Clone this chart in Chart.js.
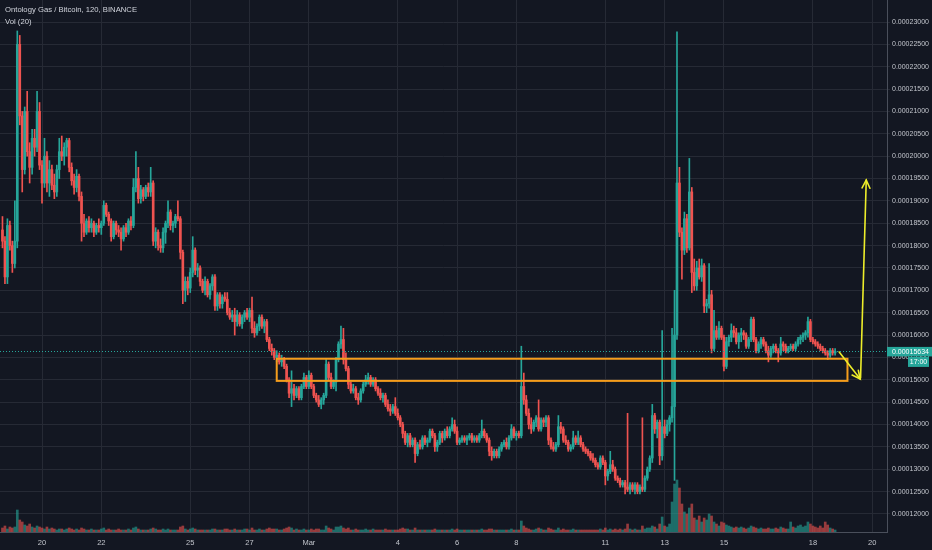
<!DOCTYPE html>
<html><head><meta charset="utf-8">
<script src="https://cdn.jsdelivr.net/npm/chart.js@4.4.1/dist/chart.umd.min.js"></script>
<style>
html,body{margin:0;padding:0;background:#131722;overflow:hidden}
#wrap{position:relative;width:932px;height:550px}
canvas{display:block}
.hdr{position:absolute;left:5px;top:4px;font-family:"Liberation Sans",Arial,sans-serif;font-size:7.7px;color:#d1d4dc;line-height:12px;white-space:nowrap}
</style></head><body>
<div id="wrap"><canvas id="c" width="932" height="550"></canvas>
<div class="hdr"><div id="t1"></div><div id="t2"></div></div></div>
<script>
// ---- text ----
const titleText = "Ontology Gas / Bitcoin, 120, BINANCE";
const volText = "Vol (20)";
// ---- time: 2h candles, first candle Feb 18 16:00 (hours relative to Feb 20 00:00) ----
const startHour = -32;
const stepHours = 2;
// x-axis tick days (days after Feb 20) and labels
const tickDays = [0, 2, 5, 7, 9, 12, 14, 16, 19, 21, 23, 26, 28];
const tickLabels = ["20", "22", "25", "27", "Mar", "4", "6", "8", "11", "13", "15", "18", "20"];
// price ticks (satoshi)
const priceTicks = [12000,12500,13000,13500,14000,14500,15000,15500,16000,16500,17000,17500,18000,18500,19000,19500,20000,20500,21000,21500,22000,22500,23000];
// ---- OHLC in satoshi (1e-8 BTC) ----
const openP = [
18350,18100,17300,18450,
18000,17600,18100,22500,20900,19700,21000,20100,19750,20400,20200,21000,
19800,19400,20000,19400,19700,19350,19200,19700,20100,20000,20200,20350,
19750,19450,19300,19550,19100,18500,18300,18550,18400,18500,18300,18450,
18400,18500,18900,18700,18550,18200,18500,18350,18300,18150,18400,18300,
18550,18450,19300,19500,19050,19250,19100,19300,19200,19400,18100,18300,
18000,17950,18300,18500,18750,18450,18500,18650,18600,17850,17000,17200,
17050,17400,17900,17450,17500,17200,17000,17200,16900,17100,17300,16650,
16900,16700,16850,16800,16500,16400,16450,16300,16450,16250,16400,16500,
16400,16550,16150,16050,16200,16400,16200,16300,15900,15700,15650,15500,
15550,15400,15450,15300,15000,14700,14800,14650,14800,14600,14850,15050,
14850,15100,14850,14650,14550,14450,14550,14650,15350,15050,14850,14950,
15450,15800,15900,15450,15250,14900,14750,14800,14600,14550,14750,14900,
15000,15050,14900,15000,14800,14700,14600,14650,14450,14350,14300,14400,
14250,14150,14000,13800,13600,13750,13550,13650,13350,13550,13500,13700,
13600,13650,13850,13750,13500,13600,13800,13700,13850,13750,13900,14000,
13850,13600,13650,13700,13650,13700,13750,13650,13700,13650,13750,13850,
13750,13650,13400,13300,13400,13300,13450,13550,13600,13500,13700,13900,
13750,13800,13750,14850,14550,14250,14000,13900,14050,14150,13900,14100,
14050,14150,13650,13500,13450,13550,13950,13900,13650,13600,13450,13500,
13700,13600,13700,13550,13450,13400,13350,13250,13200,13100,13050,13250,
13150,12850,12950,13100,13000,12800,12750,12650,12700,12600,12550,12650,
12550,12650,12500,12600,12550,12800,13000,13250,14200,13900,14050,13300,
13950,13800,14000,14150,14400,16000,19400,18300,17900,18600,17950,19200,
17400,17100,17500,17300,17550,16650,16700,16900,15700,16100,15950,16150,
15950,15300,15850,15950,16100,16050,15850,16000,16050,16000,15750,15900,
16350,15900,15650,15800,15900,15800,15650,15550,15700,15750,15650,15600,
15800,15750,15650,15700,15750,15700,15800,15900,15950,16000,16050,16300,
15900,15850,15800,15750,15700,15650,15600,15550,15650,15600];
const highP = [
18650,18200,18600,18550,
18100,19000,22800,22700,21000,21100,21450,20300,20600,20600,21450,21200,
19900,20400,20100,19900,19800,19600,19800,20400,20450,20300,20400,20400,
19850,19600,19700,19600,19200,18700,18600,18650,18600,18550,18500,18600,
18550,19000,18950,18750,18600,18550,18550,18450,18400,18450,18500,18600,
18650,19500,20100,19750,19350,19300,19350,19400,19750,19450,18400,18350,
18150,18400,18550,19000,18800,18550,18700,19000,18650,17900,17300,17300,
17500,18200,17950,17600,17550,17250,17300,17250,17150,17350,17350,16950,
16950,16900,16950,16950,16600,16550,16600,16550,16500,16450,16550,16600,
16600,16850,16300,16250,16450,16450,16350,16350,15950,15800,15700,15650,
15600,15550,15500,15350,15050,15200,14900,14850,14850,14900,15150,15100,
15200,15150,14900,14700,14650,14600,14700,15450,15400,15150,15000,15500,
15850,16200,16150,15600,15300,14950,14900,14850,14700,14800,14950,15100,
15150,15100,15050,15050,14850,14800,14700,14700,14550,14450,14450,14600,
14350,14200,14050,13850,13800,13800,13700,13700,13600,13650,13750,13750,
13700,13900,13900,13800,13650,13850,13850,13900,13950,13950,14150,14100,
13950,13700,13750,13750,13750,13800,13800,13750,13750,13800,14100,13900,
13800,13700,13500,13450,13450,13500,13600,13650,13700,13750,14000,13950,
13850,13850,15750,15150,14650,14350,14150,14100,14200,14550,14150,14150,
14200,14200,13700,13600,13600,14200,14050,13950,13750,13650,13550,13850,
13750,13850,13750,13600,13500,13450,13400,13350,13250,13150,13300,13300,
13200,13000,13400,13200,13050,12850,12800,12750,12750,14250,12700,12700,
12700,12700,12650,14150,12850,13050,13300,14450,14250,14100,14100,16100,
14100,14100,14200,16150,17000,22780,19750,18400,18750,18700,19950,19300,
17700,17650,17700,17700,17600,16800,17600,17000,16550,16200,16300,16200,
16000,15950,16000,16250,16200,16150,16050,16150,16100,16050,15950,16400,
16400,15950,15850,15950,15950,15850,15750,15750,15800,15800,15700,15950,
15850,15800,15750,15800,15800,15850,15950,16000,16050,16100,16400,16350,
15950,15900,15850,15800,15750,15700,15650,15700,15700,15700];
const lowP = [
17950,17150,17150,17900,
17400,17500,17950,20700,19200,19600,20000,19400,19600,20000,20100,19700,
18950,19300,19200,19100,19250,19050,19100,19500,19900,19800,20000,19650,
19350,19150,19200,19000,18100,18200,18250,18300,18300,18200,18250,18300,
18250,18450,18650,18450,18100,18150,18250,18200,17900,18100,18200,18250,
18350,18400,19200,18950,18950,19000,19050,19100,19100,18000,17950,17900,
17850,17850,18050,18400,18350,18300,18400,18550,17700,16700,16750,16900,
16950,17300,17350,17300,17100,16950,16900,16850,16800,17000,16550,16550,
16600,16600,16750,16450,16350,16300,16000,16200,16200,16150,16300,16350,
16300,16050,15950,16000,16100,16150,16050,15850,15650,15550,15450,15400,
15350,15300,15250,14950,14600,14400,14550,14600,14550,14550,14800,14800,
14800,14800,14600,14500,14400,14350,14450,14600,15000,14800,14800,14750,
15400,15700,15350,15200,14800,14700,14700,14550,14450,14500,14700,14850,
14900,14850,14850,14750,14650,14550,14500,14400,14300,14200,14250,14200,
14100,13950,13700,13550,13500,13500,13500,13150,13300,13450,13450,13550,
13500,13600,13700,13400,13400,13550,13600,13650,13700,13700,13850,13800,
13550,13550,13600,13600,13550,13650,13600,13600,13600,13600,13700,13700,
13600,13300,13200,13250,13250,13250,13400,13500,13450,13450,13650,13700,
13650,13700,13700,14450,14200,13900,13800,13850,13950,13850,13850,13950,
13950,13550,13450,13400,13400,13500,13800,13600,13550,13400,13400,13450,
13550,13550,13500,13400,13350,13300,13200,13150,13050,13000,13000,13100,
12650,12750,12900,12950,12750,12700,12600,12600,12450,12500,12450,12500,
12450,12450,12450,12500,12500,12750,12950,13150,13800,13700,13100,13200,
13700,13750,13850,14050,12750,15900,18200,17250,17800,17850,17900,16950,
17000,17000,17250,17200,16500,16500,16600,15600,15650,15900,15900,15900,
15200,15250,15750,15850,15950,15800,15700,15850,15900,15700,15700,15850,
15850,15600,15600,15700,15750,15600,15400,15500,15600,15600,15400,15550,
15650,15600,15600,15650,15650,15650,15750,15800,15850,15900,15950,15850,
15800,15750,15700,15650,15600,15550,15450,15500,15550,15550];
const closeP = [
18100,17300,18450,18000,
17600,18100,22500,20900,19700,21000,20100,19750,20400,20200,21000,19800,
19400,20000,19400,19700,19350,19200,19700,20100,20000,20200,20350,19750,
19450,19300,19550,19100,18500,18300,18550,18400,18500,18300,18450,18400,
18500,18900,18700,18550,18200,18500,18350,18300,18150,18400,18300,18550,
18450,19300,19500,19050,19250,19100,19300,19200,19400,18100,18300,18000,
17950,18300,18500,18750,18450,18500,18650,18600,17850,17000,17200,17050,
17400,17900,17450,17500,17200,17000,17200,16900,17100,17300,16650,16900,
16700,16850,16800,16500,16400,16450,16300,16450,16250,16400,16500,16400,
16550,16150,16050,16200,16400,16200,16300,15900,15700,15650,15500,15550,
15400,15450,15300,15000,14700,14800,14650,14800,14600,14850,15050,14850,
15100,14850,14650,14550,14450,14550,14650,15350,15050,14850,14950,15450,
15800,15900,15450,15250,14900,14750,14800,14600,14550,14750,14900,15000,
15050,14900,15000,14800,14700,14600,14650,14450,14350,14300,14400,14250,
14150,14000,13800,13600,13750,13550,13650,13350,13550,13500,13700,13600,
13650,13850,13750,13500,13600,13800,13700,13850,13750,13900,14000,13850,
13600,13650,13700,13650,13700,13750,13650,13700,13650,13750,13850,13750,
13650,13400,13300,13400,13300,13450,13550,13600,13500,13700,13900,13750,
13800,13750,14850,14550,14250,14000,13900,14050,14150,13900,14100,14050,
14150,13650,13500,13450,13550,13950,13900,13650,13600,13450,13500,13700,
13600,13700,13550,13450,13400,13350,13250,13200,13100,13050,13250,13150,
12850,12950,13100,13000,12800,12750,12650,12700,12600,12550,12650,12550,
12650,12500,12600,12550,12800,13000,13250,14200,13900,14050,13300,13950,
13800,14000,14150,14400,16000,19400,18300,17900,18600,17950,19200,17400,
17100,17500,17300,17550,16650,16700,16900,15700,16100,15950,16150,15950,
15300,15850,15950,16100,16050,15850,16000,16050,16000,15750,15900,16350,
15900,15650,15800,15900,15800,15650,15550,15700,15750,15650,15600,15800,
15750,15650,15700,15750,15700,15800,15900,15950,16000,16050,16300,15900,
15850,15800,15750,15700,15650,15600,15550,15650,15600,15634];
// volume (relative units)
const volume = [
4,6,3,5,
4,5,22,12,10,7,6,8,5,4,6,5,
4,3,5,3,4,3,2,3,3,2,3,4,
3,2,3,2,4,3,2,2,3,2,2,2,
3,4,2,3,2,2,2,3,2,2,2,3,
2,4,5,3,2,2,2,2,3,4,3,2,
2,3,2,3,2,2,2,2,5,6,3,2,
3,4,3,2,2,2,2,2,2,3,3,2,
2,2,3,3,2,2,3,2,2,2,3,3,
2,4,2,2,3,2,2,3,4,3,3,3,
2,2,3,4,5,4,2,3,2,2,3,2,
2,3,2,3,3,2,2,6,4,3,2,5,
5,6,4,3,4,2,2,3,2,2,2,3,
2,2,3,2,2,2,2,3,2,2,2,2,
2,3,4,3,3,2,2,4,2,2,2,2,
2,2,2,3,2,2,2,2,2,2,3,2,
3,2,2,2,2,2,2,2,2,2,3,2,
2,3,3,2,2,2,2,2,2,2,3,2,
2,2,11,6,4,3,2,2,3,4,3,2,
2,4,3,2,2,4,2,3,2,2,2,3,
2,2,2,2,2,2,2,2,2,2,3,2,
4,2,3,2,3,2,3,2,3,8,3,2,
3,2,2,6,3,4,4,6,5,3,8,15,
6,5,8,30,48,52,44,28,20,18,24,28,
14,12,16,10,14,12,18,16,10,8,6,10,
9,7,6,5,4,5,4,5,4,3,4,6,
5,4,3,4,3,3,4,3,3,4,3,5,
4,3,3,10,5,4,6,7,5,6,10,8,
6,5,4,6,4,10,7,4,3,2];
// ---- drawings (hours after Feb 20 00:00, satoshi) ----
const lastPrice = 15634;
const countdown = "17:00";
const zoneFromHour = 190, zoneToHour = 652, zoneTop = 15470, zoneBottom = 14975;
const arrowDown = [[645.3, 15621], [662.3, 15017]];
const arrowUp = [[662.6, 15040], [667.2, 19467]];

document.getElementById('t1').textContent = titleText;
document.getElementById('t2').textContent = volText;

const UP = '#26a69a', DOWN = '#ef5350';
const UPV = 'rgba(38,166,154,0.6)', DOWNV = 'rgba(239,83,80,0.6)';
const isUp = i => closeP[i] >= openP[i];
const hours = closeP.map((_, i) => startHour + i * stepHours);
const FONT = '"Liberation Sans", Arial, sans-serif';
const GRID = '#262a35';
const AXIS = '#4a4f5b';
const TXT = '#c2c5cc';

function drawArrow(ctx, x1, y1, x2, y2, head) {
  ctx.beginPath(); ctx.moveTo(x1, y1); ctx.lineTo(x2, y2); ctx.stroke();
  const a = Math.atan2(y2 - y1, x2 - x1);
  ctx.beginPath();
  ctx.moveTo(x2 - head * Math.cos(a - 0.45), y2 - head * Math.sin(a - 0.45));
  ctx.lineTo(x2, y2);
  ctx.lineTo(x2 - head * Math.cos(a + 0.45), y2 - head * Math.sin(a + 0.45));
  ctx.stroke();
}

const overlay = {
  id: 'overlay',
  beforeDraw(chart) {
    const c = chart.ctx; c.save(); c.fillStyle = '#131722'; c.fillRect(0, 0, chart.width, chart.height); c.restore();
  },
  afterDatasetsDraw(chart) {
    const { ctx, chartArea, scales: { x, y } } = chart;
    ctx.save();
    const py = Math.round(y.getPixelForValue(lastPrice)) + 0.5;
    ctx.strokeStyle = UP; ctx.lineWidth = 1; ctx.setLineDash([1, 2]);
    ctx.beginPath(); ctx.moveTo(chartArea.left, py); ctx.lineTo(chartArea.right, py); ctx.stroke();
    ctx.setLineDash([]);
    ctx.strokeStyle = '#f59d1c'; ctx.lineWidth = 2;
    const zx1 = x.getPixelForValue(zoneFromHour), zx2 = x.getPixelForValue(zoneToHour);
    const zy1 = y.getPixelForValue(zoneTop), zy2 = y.getPixelForValue(zoneBottom);
    ctx.strokeRect(zx1, zy1, zx2 - zx1, zy2 - zy1);
    ctx.strokeStyle = '#eded2a'; ctx.lineWidth = 1.6; ctx.lineCap = 'round';
    drawArrow(ctx, x.getPixelForValue(arrowDown[0][0]), y.getPixelForValue(arrowDown[0][1]),
      x.getPixelForValue(arrowDown[1][0]), y.getPixelForValue(arrowDown[1][1]), 9);
    drawArrow(ctx, x.getPixelForValue(arrowUp[0][0]), y.getPixelForValue(arrowUp[0][1]),
      x.getPixelForValue(arrowUp[1][0]), y.getPixelForValue(arrowUp[1][1]), 9);
    ctx.restore();
  },
  afterDraw(chart) {
    const { ctx, chartArea, scales: { y } } = chart;
    const py = y.getPixelForValue(lastPrice);
    ctx.save();
    ctx.fillStyle = UP;
    ctx.fillRect(chartArea.right, py - 4.5, chart.width - chartArea.right, 9.5);
    ctx.fillRect(908, py + 5.5, 21, 10);
    ctx.fillStyle = '#ffffff';
    ctx.font = '7px ' + FONT; ctx.textBaseline = 'middle'; ctx.textAlign = 'left';
    ctx.fillText((lastPrice * 1e-8).toFixed(8), chartArea.right + 5, py + 0.5);
    ctx.textAlign = 'center';
    ctx.fillText(countdown, 918.5, py + 10.8);
    ctx.restore();
  }
};

new Chart(document.getElementById('c'), {
  type: 'bar',
  data: {
    datasets: [
      { label: 'body', data: hours.map((h, i) => ({ x: h, y: [openP[i], closeP[i]] })),
        backgroundColor: c => isUp(c.dataIndex) ? UP : DOWN, barThickness: 2, minBarLength: 1, grouped: false, yAxisID: 'y' },
      { label: 'wick', data: hours.map((h, i) => ({ x: h, y: [lowP[i], highP[i]] })),
        backgroundColor: c => isUp(c.dataIndex) ? UP : DOWN, barThickness: 1, grouped: false, yAxisID: 'y' },
      { label: 'vol', data: hours.map((h, i) => ({ x: h, y: volume[i] })),
        backgroundColor: c => isUp(c.dataIndex) ? UPV : DOWNV, barThickness: 2, grouped: false, yAxisID: 'yv' }
    ]
  },
  options: {
    responsive: false, animation: false, devicePixelRatio: 1,
    layout: { padding: 0 },
    plugins: { legend: { display: false }, tooltip: { enabled: false } },
    scales: {
      x: {
        type: 'linear', min: -34, max: 684, offset: false,
        afterBuildTicks: s => { s.ticks = tickDays.map(d => ({ value: d * 24 })); },
        ticks: { callback: v => tickLabels[tickDays.indexOf(v / 24)], font: { size: 7.5, family: FONT }, color: TXT, maxRotation: 0, autoSkip: false, padding: 6 },
        grid: { color: GRID, drawTicks: false, offset: false },
        border: { color: AXIS },
        afterFit: s => { s.height = 18; s.paddingLeft = 0; s.paddingRight = 0; }
      },
      y: {
        position: 'right', min: 11596, max: 23492, offset: false,
        afterBuildTicks: s => { s.ticks = priceTicks.map(v => ({ value: v })); },
        ticks: { callback: v => (v * 1e-8).toFixed(8), font: { size: 7, family: FONT }, color: TXT, padding: 2, autoSkip: false },
        grid: { color: GRID, tickLength: 3 },
        border: { color: AXIS },
        afterFit: s => { s.width = 45; s.paddingTop = 0; s.paddingBottom = 0; }
      },
      yv: { display: false, min: 0, max: 532, offset: false }
    }
  },
  plugins: [overlay]
});
</script>
</body></html>
